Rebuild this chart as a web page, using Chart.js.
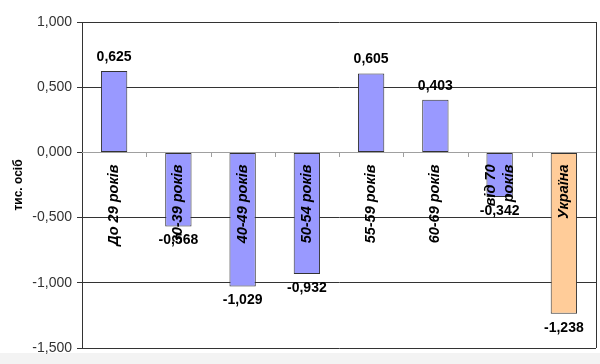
<!DOCTYPE html>
<html>
<head>
<meta charset="utf-8">
<script src="https://cdn.jsdelivr.net/npm/chart.js@4.4.0/dist/chart.umd.min.js"></script>
<style>
html,body{margin:0;padding:0;background:#fff;}
#wrap{width:600px;height:364px;position:relative;}
</style>
</head>
<body>
<div id="wrap"><canvas id="c" width="600" height="364"></canvas></div>
<script>
const categories = [["До 29 років"], ["30-39 років"], ["40-49 років"], ["50-54 років"], ["55-59 років"], ["60-69 років"], ["від 70", "років"], ["Україна"]];
const values = [0.625, -0.568, -1.029, -0.932, 0.605, 0.403, -0.342, -1.238];
const barColors = ["#9999ff", "#9999ff", "#9999ff", "#9999ff", "#9999ff", "#9999ff", "#9999ff", "#ffcc99"];
const yTicks = [1.0, 0.5, 0.0, -0.5, -1.0, -1.5];
const yTitle = "тис. осіб";

const fmt = v => {
  const s = Math.abs(v).toFixed(3).replace('.', ',');
  return (v < 0 ? '-' : '') + s;
};

const FONT = "'Liberation Sans', Arial, sans-serif";

const decor = {
  id: 'decor',
  beforeDraw(chart) {
    const ctx = chart.ctx, a = chart.chartArea;
    ctx.save();
    ctx.fillStyle = '#ffffff';
    ctx.fillRect(0, 0, chart.width, chart.height);
    ctx.fillStyle = '#f3f3f3';
    ctx.fillRect(0, a.bottom + 5, chart.width, chart.height - a.bottom - 5);
    ctx.restore();
  },
  afterDatasetsDraw(chart) {
    const ctx = chart.ctx, a = chart.chartArea;
    const xs = chart.scales.x, ys = chart.scales.y;
    const y0 = ys.getPixelForValue(0);
    ctx.save();
    ctx.strokeStyle = '#a0a0a0';
    ctx.lineWidth = 1;
    ctx.beginPath();
    ctx.moveTo(a.left, Math.round(y0) + 0.5);
    ctx.lineTo(a.right, Math.round(y0) + 0.5);
    for (let i = 1; i < categories.length; i++) {
      const xp = Math.round((xs.getPixelForValue(i - 1) + xs.getPixelForValue(i)) / 2) + 0.5;
      ctx.moveTo(xp, Math.round(y0));
      ctx.lineTo(xp, Math.round(y0) + 5);
    }
    ctx.stroke();
    ctx.strokeStyle = '#333';
    ctx.beginPath();
    ctx.moveTo(Math.round(a.right) + 0.5, a.top);
    ctx.lineTo(Math.round(a.right) + 0.5, a.bottom);
    ctx.stroke();

    ctx.fillStyle = '#000';
    ctx.font = 'italic bold 14.5px ' + FONT;
    ctx.textAlign = 'right';
    ctx.textBaseline = 'middle';
    categories.forEach((lines, i) => {
      const cx = xs.getPixelForValue(i);
      const n = lines.length;
      lines.forEach((t, j) => {
        const off = (j - (n - 1) / 2) * 18;
        ctx.save();
        ctx.translate(cx + off, y0 + 12);
        ctx.rotate(-Math.PI / 2);
        ctx.fillText(t, 0, 0);
        ctx.restore();
      });
    });

    ctx.font = 'bold 14px ' + FONT;
    ctx.textAlign = 'center';
    const meta = chart.getDatasetMeta(0);
    meta.data.forEach((bar, i) => {
      const v = values[i];
      if (v >= 0) {
        ctx.textBaseline = 'bottom';
        ctx.fillText(fmt(v), bar.x, bar.y - 7);
      } else {
        ctx.textBaseline = 'top';
        ctx.fillText(fmt(v), bar.x, bar.y + 7);
      }
    });
    ctx.restore();
  }
};

new Chart(document.getElementById('c'), {
  type: 'bar',
  data: {
    labels: categories.map(l => l.join(' ')),
    datasets: [{
      data: values,
      backgroundColor: barColors,
      borderColor: '#333333',
      borderWidth: 1,
      borderSkipped: false,
      categoryPercentage: 1.0,
      barPercentage: 0.41
    }]
  },
  options: {
    responsive: false,
    animation: false,
    devicePixelRatio: 1,
    layout: { padding: { top: 22, right: 4, bottom: 16, left: 0 } },
    plugins: { legend: { display: false }, tooltip: { enabled: false } },
    scales: {
      x: { display: false, offset: true },
      y: {
        min: -1.5, max: 1.0,
        afterBuildTicks(scale) { scale.ticks = yTicks.map(v => ({ value: v })); },
        afterFit(scale) { scale.width = 82; },
        ticks: {
          callback: v => fmt(v),
          font: { family: FONT, size: 14 },
          color: '#333',
          padding: 5
        },
        grid: {
          color: ctx => (ctx.tick && ctx.tick.value === 0) ? 'rgba(0,0,0,0)' : '#333',
          tickColor: '#333',
          tickLength: 5,
          lineWidth: 1
        },
        border: { color: '#333', width: 1 },
        title: {
          display: true,
          text: yTitle,
          font: { family: FONT, size: 12, weight: 'bold' },
          color: '#000',
          padding: { top: 11, bottom: 6 }
        }
      }
    }
  },
  plugins: [decor]
});
</script>
</body>
</html>
